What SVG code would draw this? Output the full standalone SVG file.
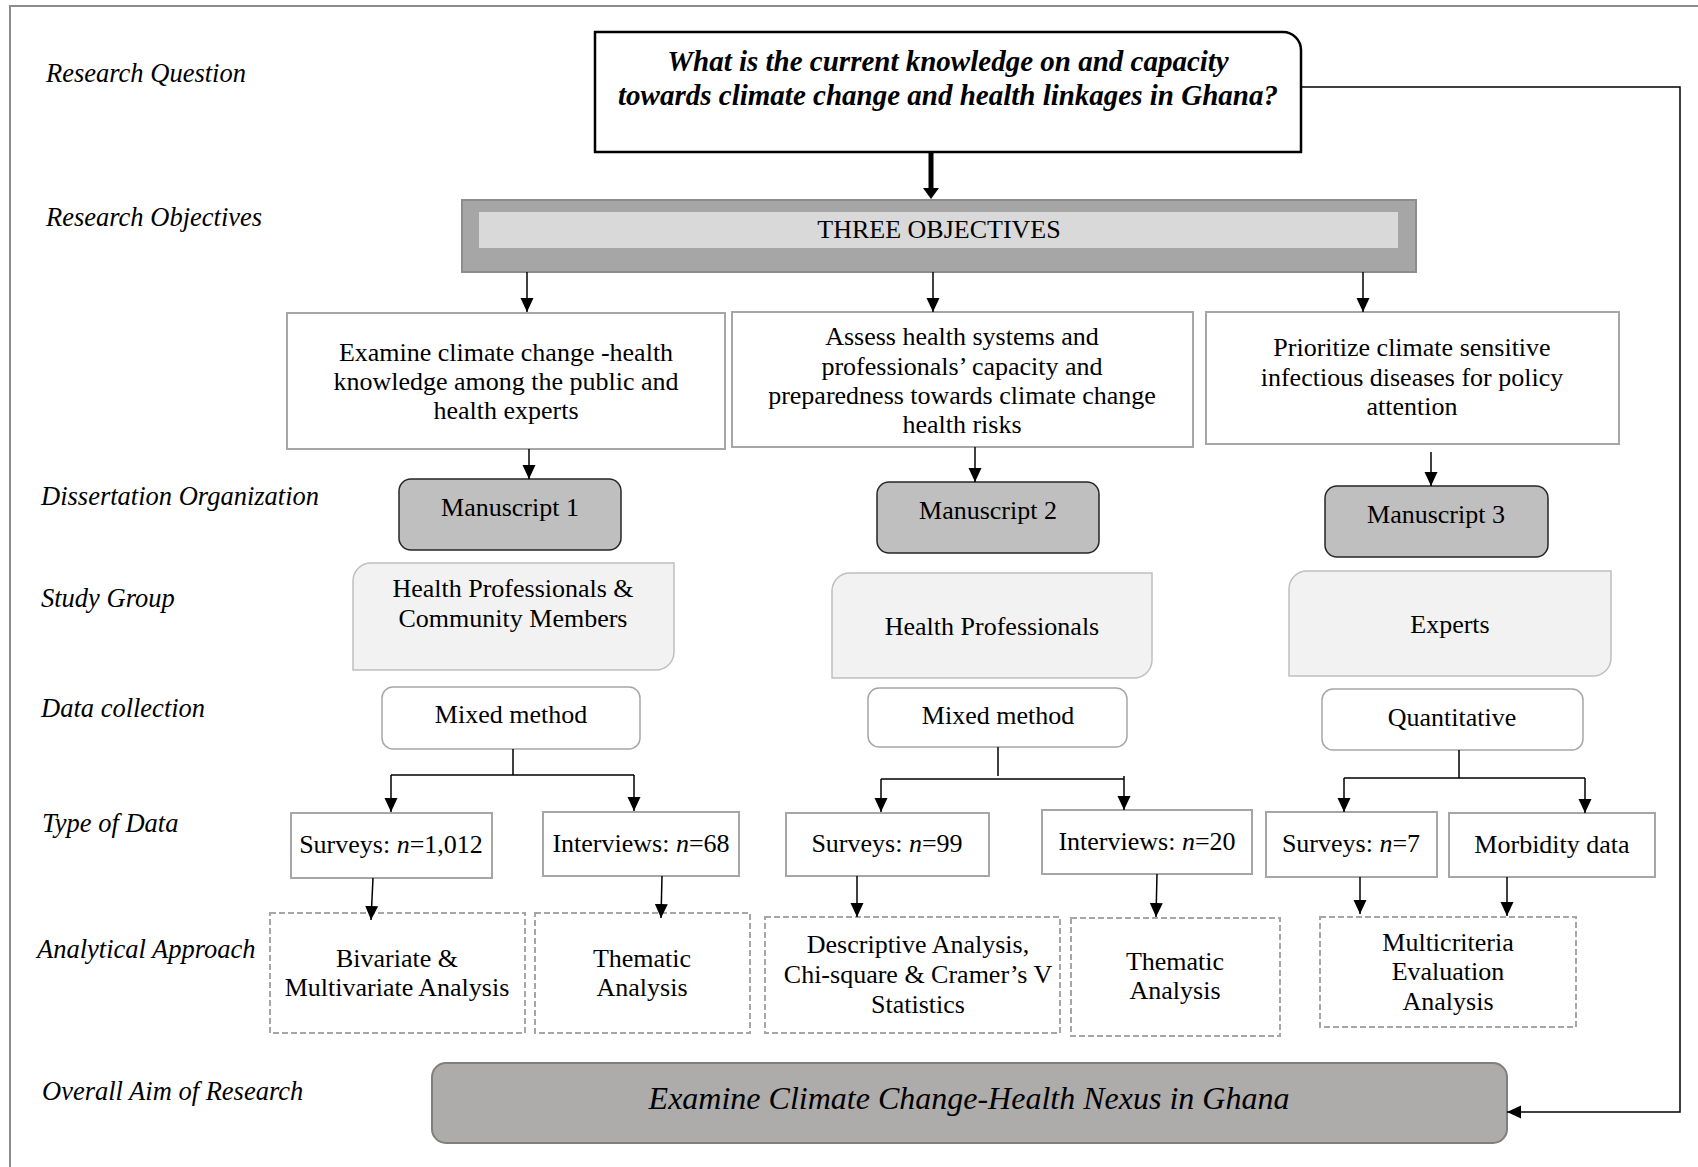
<svg xmlns="http://www.w3.org/2000/svg" width="1698" height="1167" viewBox="0 0 1698 1167">
<defs>
<style>
text{font-family:"Liberation Serif","Times New Roman",serif;fill:#000}
.lbl{font-size:26.5px;font-style:italic}
.body{font-size:26px;text-anchor:middle}
.q{font-size:29px;font-style:italic;font-weight:bold;text-anchor:middle}
.obj{fill:#fff;stroke:#a6a6a6;stroke-width:2}
.ms{fill:#bfbfbf;stroke:#262626;stroke-width:1.5}
.sg{fill:#f2f2f2;stroke:#bfbfbf;stroke-width:1.5}
.dc{fill:#fff;stroke:#a6a6a6;stroke-width:1.5}
.td{fill:#fff;stroke:#a6a6a6;stroke-width:2}
.an{fill:#fff;stroke:#a6a6a6;stroke-width:2;stroke-dasharray:6 3}
.c{fill:none;stroke:#000;stroke-width:1.5}
.ca{fill:none;stroke:#000;stroke-width:1.5;marker-end:url(#ah)}
</style>
<marker id="ah" viewBox="0 0 14 14" refX="14" refY="7" markerWidth="14" markerHeight="14" orient="auto" markerUnits="userSpaceOnUse"><path d="M0,0.5 L14,7 L0,13.5 z" fill="#000"/></marker>
</defs>
<rect x="0" y="0" width="1698" height="1167" fill="#fff"/>
<rect x="10" y="6" width="1720" height="1220" fill="none" stroke="#8c8c8c" stroke-width="2"/>

<g id="side-labels">
<text class="lbl" x="46" y="82">Research Question</text>
<text class="lbl" x="46" y="226">Research Objectives</text>
<text class="lbl" x="41" y="505">Dissertation Organization</text>
<text class="lbl" x="41" y="607">Study Group</text>
<text class="lbl" x="41" y="717">Data collection</text>
<text class="lbl" x="42" y="832">Type of Data</text>
<text class="lbl" x="37" y="958">Analytical Approach</text>
<text class="lbl" x="42" y="1100">Overall Aim of Research</text>
</g>

<g id="question">
<path d="M595,32 H1283 A18 18 0 0 1 1301 50 V152 H595 Z" fill="#fff" stroke="#000" stroke-width="2.5"/>
<text class="q" x="948" y="71">What is the current knowledge on and capacity</text>
<text class="q" x="948" y="105">towards climate change and health linkages in Ghana?</text>
</g>

<g id="objectives">
<rect x="462" y="200" width="954" height="72" fill="#a6a6a6" stroke="#8c8c8c" stroke-width="2"/>
<rect x="479" y="212" width="919" height="36" fill="#d9d9d9"/>
<text x="939" y="238" font-size="26" text-anchor="middle">THREE OBJECTIVES</text>
</g>

<g id="objective1">
<rect class="obj" x="287" y="313" width="438" height="136"/>
<text class="body" x="506" y="361">Examine climate change -health</text>
<text class="body" x="506" y="390">knowledge among the public and</text>
<text class="body" x="506" y="419">health experts</text>
</g>
<g id="objective2">
<rect class="obj" x="732" y="312" width="461" height="135"/>
<text class="body" x="962" y="345">Assess health systems and</text>
<text class="body" x="962" y="375">professionals’ capacity and</text>
<text class="body" x="962" y="404">preparedness towards climate change</text>
<text class="body" x="962" y="433">health risks</text>
</g>
<g id="objective3">
<rect class="obj" x="1206" y="312" width="413" height="132"/>
<text class="body" x="1412" y="356">Prioritize climate sensitive</text>
<text class="body" x="1412" y="386">infectious diseases for policy</text>
<text class="body" x="1412" y="415">attention</text>
</g>

<g id="manuscript1">
<rect class="ms" x="399" y="479" width="222" height="71" rx="12"/>
<text class="body" x="510" y="516">Manuscript 1</text>
</g>
<g id="manuscript2">
<rect class="ms" x="877" y="482" width="222" height="71" rx="12"/>
<text class="body" x="988" y="519">Manuscript 2</text>
</g>
<g id="manuscript3">
<rect class="ms" x="1325" y="486" width="223" height="71" rx="12"/>
<text class="body" x="1436" y="523">Manuscript 3</text>
</g>

<g id="study1">
<path class="sg" d="M371,563 H674 V652 A18 18 0 0 1 656 670 H353 V581 A18 18 0 0 1 371 563 Z"/>
<text class="body" x="513" y="597">Health Professionals &amp;</text>
<text class="body" x="513" y="627">Community Members</text>
</g>
<g id="study2">
<path class="sg" d="M850,573 H1152 V660 A18 18 0 0 1 1134 678 H832 V591 A18 18 0 0 1 850 573 Z"/>
<text class="body" x="992" y="635">Health Professionals</text>
</g>
<g id="study3">
<path class="sg" d="M1307,571 H1611 V658 A18 18 0 0 1 1593 676 H1289 V589 A18 18 0 0 1 1307 571 Z"/>
<text class="body" x="1450" y="633">Experts</text>
</g>

<g id="collect1">
<rect class="dc" x="382" y="687" width="258" height="62" rx="11"/>
<text class="body" x="511" y="723">Mixed method</text>
</g>
<g id="collect2">
<rect class="dc" x="868" y="688" width="259" height="59" rx="11"/>
<text class="body" x="998" y="724">Mixed method</text>
</g>
<g id="collect3">
<rect class="dc" x="1322" y="689" width="261" height="61" rx="11"/>
<text class="body" x="1452" y="726">Quantitative</text>
</g>

<g id="data1">
<rect class="td" x="291" y="813" width="201" height="65"/>
<text class="body" x="391" y="853">Surveys: <tspan font-style="italic">n</tspan>=1,012</text>
</g>
<g id="data2">
<rect class="td" x="543" y="812" width="196" height="64"/>
<text class="body" x="641" y="852">Interviews: <tspan font-style="italic">n</tspan>=68</text>
</g>
<g id="data3">
<rect class="td" x="786" y="813" width="203" height="63"/>
<text class="body" x="887" y="852">Surveys: <tspan font-style="italic">n</tspan>=99</text>
</g>
<g id="data4">
<rect class="td" x="1042" y="810" width="210" height="64"/>
<text class="body" x="1147" y="850">Interviews: <tspan font-style="italic">n</tspan>=20</text>
</g>
<g id="data5">
<rect class="td" x="1266" y="812" width="171" height="65"/>
<text class="body" x="1351" y="852">Surveys: <tspan font-style="italic">n</tspan>=7</text>
</g>
<g id="data6">
<rect class="td" x="1449" y="813" width="206" height="64"/>
<text class="body" x="1552" y="853">Morbidity data</text>
</g>

<g id="analysis1">
<rect class="an" x="270" y="913" width="255" height="120"/>
<text class="body" x="397" y="967">Bivariate &amp;</text>
<text class="body" x="397" y="996">Multivariate Analysis</text>
</g>
<g id="analysis2">
<rect class="an" x="535" y="913" width="215" height="120"/>
<text class="body" x="642" y="967">Thematic</text>
<text class="body" x="642" y="996">Analysis</text>
</g>
<g id="analysis3">
<rect class="an" x="765" y="917" width="295" height="116"/>
<text class="body" x="918" y="953">Descriptive Analysis,</text>
<text class="body" x="918" y="983">Chi-square &amp; Cramer’s V</text>
<text class="body" x="918" y="1013">Statistics</text>
</g>
<g id="analysis4">
<rect class="an" x="1071" y="918" width="209" height="118"/>
<text class="body" x="1175" y="970">Thematic</text>
<text class="body" x="1175" y="999">Analysis</text>
</g>
<g id="analysis5">
<rect class="an" x="1320" y="917" width="256" height="110"/>
<text class="body" x="1448" y="951">Multicriteria</text>
<text class="body" x="1448" y="980">Evaluation</text>
<text class="body" x="1448" y="1010">Analysis</text>
</g>

<g id="overall-aim">
<rect x="432" y="1063" width="1075" height="80" rx="14" fill="#aeabab" stroke="#7f7f7f" stroke-width="2"/>
<text x="969" y="1109" font-size="32" font-style="italic" text-anchor="middle">Examine Climate Change-Health Nexus in Ghana</text>
</g>

<g id="connectors">
<line x1="931" y1="152" x2="931" y2="190" stroke="#000" stroke-width="5"/>
<polygon points="923,188 939,188 931,199" fill="#000"/>
<line class="ca" x1="527" y1="272" x2="527" y2="312"/>
<line class="ca" x1="933" y1="272" x2="933" y2="312"/>
<line class="ca" x1="1363" y1="272" x2="1363" y2="312"/>
<line class="ca" x1="529" y1="449" x2="529" y2="479"/>
<line class="ca" x1="975" y1="447" x2="975" y2="482"/>
<line class="ca" x1="1431" y1="452" x2="1431" y2="486"/>
<path class="c" d="M513,749 V775 M391,775 H634"/>
<line class="ca" x1="391" y1="775" x2="391" y2="812"/>
<line class="ca" x1="634" y1="775" x2="634" y2="811"/>
<path class="c" d="M998,747 V776 M881,779 H1124"/>
<line class="ca" x1="881" y1="779" x2="881" y2="812"/>
<line class="ca" x1="1124" y1="776" x2="1124" y2="810"/>
<path class="c" d="M1459,750 V778 M1344,778 H1585"/>
<line class="ca" x1="1344" y1="778" x2="1344" y2="812"/>
<line class="ca" x1="1585" y1="778" x2="1585" y2="813"/>
<line class="ca" x1="373" y1="878" x2="371" y2="920"/>
<line class="ca" x1="662" y1="876" x2="661" y2="918"/>
<line class="ca" x1="857" y1="876" x2="857" y2="917"/>
<line class="ca" x1="1157" y1="874" x2="1156" y2="917"/>
<line class="ca" x1="1360" y1="877" x2="1360" y2="914"/>
<line class="ca" x1="1507" y1="877" x2="1507" y2="916"/>
<path class="ca" d="M1301,87 H1680 V1112 H1507"/>
</g>
</svg>
